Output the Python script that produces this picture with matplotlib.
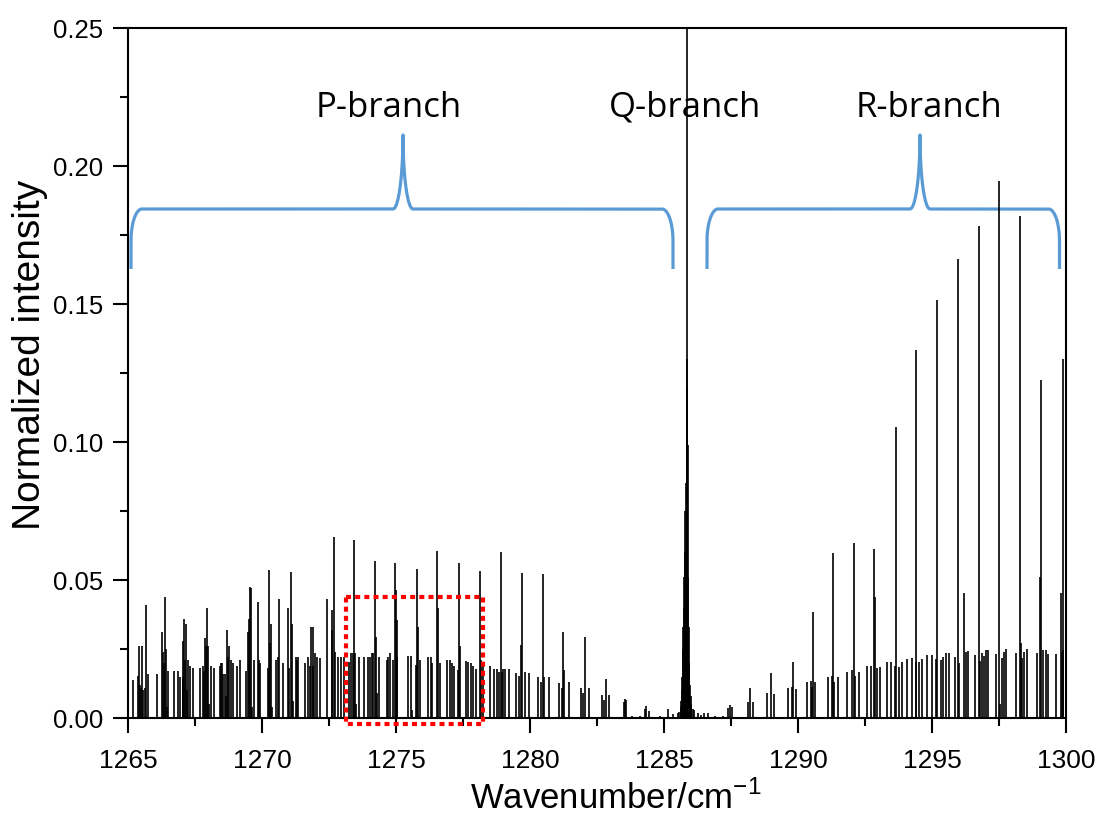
import numpy as np
import matplotlib
matplotlib.use("Agg")
import matplotlib.pyplot as plt
from matplotlib.ticker import MultipleLocator, FormatStrFormatter

# P-branch stick lines (wavenumber / cm-1, normalized intensity)
p_pos = [1265.20, 1265.39, 1265.41, 1265.45, 1265.50, 1265.53, 1265.57, 1265.62, 1265.66, 1265.76,
         1266.07, 1266.26, 1266.29, 1266.33, 1266.38, 1266.42, 1266.45, 1266.50, 1266.73, 1266.88,
         1266.94, 1267.04, 1267.07, 1267.10, 1267.14, 1267.18, 1267.21, 1267.23, 1267.31, 1267.41,
         1267.69, 1267.79, 1267.83, 1267.87, 1267.91, 1267.94, 1267.97, 1268.01, 1268.10, 1268.22,
         1268.43, 1268.46, 1268.50, 1268.56, 1268.62, 1268.66, 1268.71, 1268.74, 1268.77, 1268.84,
         1268.93, 1269.08, 1269.18, 1269.39, 1269.47, 1269.51, 1269.55, 1269.58, 1269.63, 1269.71,
         1269.86, 1269.90, 1269.93, 1270.21, 1270.25, 1270.28, 1270.32, 1270.36, 1270.51, 1270.61,
         1270.63, 1270.80, 1270.98, 1271.02, 1271.07, 1271.11, 1271.15, 1271.27, 1271.30, 1271.33,
         1271.60, 1271.73, 1271.78, 1271.83, 1271.89, 1271.92, 1271.98, 1272.06, 1272.16, 1272.44,
         1272.60, 1272.63, 1272.69, 1272.72, 1272.85, 1272.95, 1273.06, 1273.26, 1273.33, 1273.38,
         1273.44, 1273.48, 1273.52, 1273.62, 1273.82, 1273.94, 1274.03, 1274.09, 1274.15, 1274.22,
         1274.25, 1274.28, 1274.37, 1274.65, 1274.72, 1274.78, 1274.90, 1274.96, 1274.99, 1275.02,
         1275.05, 1275.44, 1275.56, 1275.60, 1275.75, 1275.80, 1275.83, 1275.91, 1276.18, 1276.29,
         1276.35, 1276.54, 1276.57, 1276.63, 1276.89, 1277.01, 1277.10, 1277.16, 1277.33, 1277.35,
         1277.40, 1277.60, 1277.70, 1277.80, 1277.89, 1277.97, 1278.13, 1278.16, 1278.25, 1278.51,
         1278.67, 1278.76, 1278.84, 1278.91, 1278.95, 1279.00, 1279.07, 1279.23, 1279.47, 1279.59,
         1279.65, 1279.71, 1279.81, 1279.96, 1280.29, 1280.41, 1280.47, 1280.54, 1280.71, 1281.08,
         1281.18, 1281.24, 1281.27, 1281.46, 1281.89, 1281.99, 1282.05, 1282.21, 1282.67, 1282.75,
         1282.82, 1282.93, 1283.51, 1283.55, 1283.58, 1283.79, 1284.10, 1284.29, 1284.33, 1284.44,
         1284.85, 1285.14, 1285.35, 1285.51, 1285.57]
p_int = [0.0138, 0.0152, 0.0260, 0.0120, 0.0110, 0.0260, 0.0100, 0.0110, 0.0410, 0.0160,
         0.0160, 0.0310, 0.0240, 0.0200, 0.0440, 0.0250, 0.0040, 0.0170, 0.0170, 0.0170,
         0.0150, 0.0280, 0.0150, 0.0360, 0.0210, 0.0340, 0.0100, 0.0210, 0.0190, 0.0180,
         0.0180, 0.0190, 0.0170, 0.0290, 0.0260, 0.0400, 0.0260, 0.0050, 0.0190, 0.0180,
         0.0190, 0.0200, 0.0200, 0.0160, 0.0160, 0.0080, 0.0320, 0.0220, 0.0260, 0.0210,
         0.0200, 0.0190, 0.0210, 0.0170, 0.0310, 0.0360, 0.0475, 0.0470, 0.0040, 0.0210,
         0.0420, 0.0210, 0.0200, 0.0180, 0.0536, 0.0270, 0.0340, 0.0040, 0.0210, 0.0220,
         0.0430, 0.0200, 0.0400, 0.0180, 0.0530, 0.0340, 0.0060, 0.0220, 0.0210, 0.0220,
         0.0200, 0.0220, 0.0190, 0.0330, 0.0330, 0.0190, 0.0234, 0.0220, 0.0216, 0.0430,
         0.0390, 0.0320, 0.0655, 0.0240, 0.0220, 0.0220, 0.0220, 0.0204, 0.0234, 0.0234,
         0.0645, 0.0234, 0.0050, 0.0220, 0.0220, 0.0220, 0.0220, 0.0234, 0.0234, 0.0570,
         0.0295, 0.0090, 0.0220, 0.0210, 0.0220, 0.0234, 0.0210, 0.0560, 0.0464, 0.0355,
         0.0220, 0.0226, 0.0226, 0.0030, 0.0191, 0.0539, 0.0330, 0.0210, 0.0220, 0.0220,
         0.0200, 0.0606, 0.0400, 0.0200, 0.0210, 0.0210, 0.0200, 0.0190, 0.0174, 0.0563,
         0.0260, 0.0208, 0.0204, 0.0200, 0.0190, 0.0179, 0.0531, 0.0210, 0.0200, 0.0190,
         0.0179, 0.0176, 0.0166, 0.0603, 0.0166, 0.0176, 0.0176, 0.0176, 0.0164, 0.0152,
         0.0265, 0.0524, 0.0166, 0.0164, 0.0147, 0.0132, 0.0520, 0.0150, 0.0147, 0.0126,
         0.0110, 0.0313, 0.0174, 0.0129, 0.0108, 0.0089, 0.0294, 0.0108, 0.0083, 0.0067,
         0.0141, 0.0083, 0.0059, 0.0070, 0.0065, 0.0007, 0.0007, 0.0031, 0.0043, 0.0026,
         0.0007, 0.0031, 0.0016, 0.0018, 0.0022]

# Q-branch head
q_pos = [1285.62, 1285.64, 1285.66, 1285.68, 1285.70, 1285.72, 1285.74, 1285.76, 1285.78, 1285.80,
         1285.82, 1285.84, 1285.85, 1285.86, 1285.87, 1285.89, 1285.91, 1285.93, 1285.95, 1285.97,
         1285.99, 1286.02, 1286.07, 1286.12, 1286.28, 1286.37, 1286.50, 1286.65, 1286.90, 1287.19,
         1287.40, 1287.46, 1287.53]
q_int = [0.0040, 0.0060, 0.0100, 0.0150, 0.0250, 0.0330, 0.0400, 0.0510, 0.0600, 0.0750,
         0.0850, 0.0990, 0.1300, 0.1200, 1.0000, 0.0990, 0.0510, 0.0330, 0.0200, 0.0120,
         0.0080, 0.0050, 0.0031, 0.0030, 0.0017, 0.0012, 0.0017, 0.0019, 0.0007, 0.0007,
         0.0035, 0.0047, 0.0040]

# R-branch stick lines
r_pos = [1288.15, 1288.21, 1288.31, 1288.85, 1288.98, 1289.12, 1289.64, 1289.76, 1289.80, 1289.93,
         1290.35, 1290.49, 1290.53, 1290.57, 1290.64, 1291.13, 1291.25, 1291.32, 1291.35, 1291.48,
         1291.84, 1292.00, 1292.09, 1292.12, 1292.29, 1292.59, 1292.72, 1292.85, 1292.88, 1292.93,
         1293.06, 1293.33, 1293.47, 1293.62, 1293.66, 1293.77, 1293.87, 1294.06, 1294.25, 1294.39,
         1294.42, 1294.50, 1294.62, 1294.80, 1295.01, 1295.15, 1295.20, 1295.33, 1295.42, 1295.52,
         1295.64, 1295.86, 1295.98, 1296.02, 1296.19, 1296.27, 1296.36, 1296.60, 1296.75, 1296.78,
         1296.88, 1296.94, 1297.01, 1297.10, 1297.39, 1297.51, 1297.53, 1297.60, 1297.69, 1297.76,
         1298.13, 1298.28, 1298.31, 1298.34, 1298.43, 1298.53, 1298.91, 1299.02, 1299.05, 1299.15,
         1299.24, 1299.34, 1299.63, 1299.80, 1299.84, 1299.87, 1299.90]
r_int = [0.0059, 0.0108, 0.0059, 0.0090, 0.0162, 0.0087, 0.0110, 0.0114, 0.0204, 0.0105,
         0.0129, 0.0134, 0.0114, 0.0384, 0.0129, 0.0150, 0.0153, 0.0598, 0.0131, 0.0150,
         0.0168, 0.0174, 0.0634, 0.0151, 0.0166, 0.0190, 0.0190, 0.0612, 0.0440, 0.0180,
         0.0184, 0.0202, 0.0204, 0.0190, 0.1055, 0.0186, 0.0202, 0.0212, 0.0216, 0.0202,
         0.1334, 0.0204, 0.0212, 0.0228, 0.0228, 0.0212, 0.1515, 0.0210, 0.0220, 0.0237,
         0.0237, 0.0220, 0.1663, 0.0200, 0.0454, 0.0240, 0.0244, 0.0229, 0.1783, 0.0208,
         0.0237, 0.0225, 0.0246, 0.0246, 0.0232, 0.1944, 0.0050, 0.0216, 0.0240, 0.0250,
         0.0237, 0.1819, 0.0271, 0.0216, 0.0240, 0.0250, 0.0237, 0.0510, 0.1223, 0.0246,
         0.0246, 0.0232, 0.0232, 0.0454, 0.0240, 0.1300, 0.0245]

branch_names = ["P-branch", "Q-branch", "R-branch"]
label_x = [1274.74, 1285.78, 1294.87]

plt.rcParams["font.family"] = ["Liberation Sans", "DejaVu Sans"]
plt.rcParams["mathtext.fontset"] = "custom"
plt.rcParams["mathtext.rm"] = "Liberation Sans"

fig = plt.figure(figsize=(11.02, 8.22), dpi=100)
ax = fig.add_axes([128 / 1102, 1 - 718 / 822, 938 / 1102, 690 / 822])

ax.set_xlim(1265, 1300)
ax.set_ylim(0, 0.25)

for pos, inten in [(p_pos, p_int), (q_pos, q_int), (r_pos, r_int)]:
    ax.vlines(pos, 0, inten, colors="black", linewidth=1.2, zorder=4)

# axis cosmetics
for s in ax.spines.values():
    s.set_linewidth(1.5)
ax.xaxis.set_major_locator(MultipleLocator(5))
ax.xaxis.set_minor_locator(MultipleLocator(2.5))
ax.yaxis.set_major_locator(MultipleLocator(0.05))
ax.yaxis.set_minor_locator(MultipleLocator(0.025))
ax.yaxis.set_major_formatter(FormatStrFormatter("%.2f"))
ax.tick_params(which="major", direction="out", length=11, width=1.5)
ax.tick_params(which="minor", direction="out", length=6, width=1.5)
ax.tick_params(axis="x", which="major", labelsize=19, pad=11)
ax.tick_params(axis="y", which="major", labelsize=18.5, pad=7)

ax.text((30 - 128) / 938, (718 - 355) / 690, "Normalized intensity", rotation=90,
        fontsize=28, ha="center", va="center", transform=ax.transAxes)
ax.text((616 - 128) / 938, (718 - 798) / 690, "Wavenumber/cm$^{-1}$",
        fontsize=25, ha="center", va="center", transform=ax.transAxes)

# branch labels
for name, x in zip(branch_names, label_x):
    ax.text(x, 0.2178, name, fontsize=25, family=["Open Sans", "DejaVu Sans"],
            ha="center", va="baseline", zorder=1)

# curly brackets over the P and R branches
sx = 35 / 938
sy = 0.25 / 690


def brace(x0, x1, xm, yb, yh, yt, rx=11, ry=32, rt=10):
    rx, ry, rt = rx * sx, ry * sy, rt * sx
    t = np.linspace(0, np.pi / 2, 40)
    px = [x0]
    py = [yb]
    px += list(x0 + rx - rx * np.cos(t))
    py += list(yh - ry + ry * np.sin(t))
    px += list(xm - rt + rt * np.sin(t))
    py += list(yt - (yt - yh) * np.cos(t))
    px += list(xm + rt - rt * np.sin(t[::-1]))
    py += list(yt - (yt - yh) * np.cos(t[::-1]))
    px += list(x1 - rx + rx * np.cos(t[::-1]))
    py += list(yh - ry + ry * np.sin(t[::-1]))
    px += [x1]
    py += [yb]
    ax.plot(px, py, color="#5B9BD5", linewidth=2.3, clip_on=False, zorder=2,
            solid_capstyle="butt")


y_bot = (718 - 269) * sy
y_bar = (718 - 209) * sy
y_tip = (718 - 135) * sy
brace(1265 + 3 * sx, 1265 + 545 * sx, 1265 + 275 * sx, y_bot, y_bar, y_tip)
brace(1265 + 579 * sx, 1265 + 931.5 * sx, 1265 + 792 * sx, y_bot, y_bar, y_tip)

# dotted box around the zoomed region
bx0, bx1 = 1273.12, 1278.23
by0, by1 = -0.0022, 0.0438
ax.plot([bx0, bx1, bx1, bx0, bx0], [by1, by1, by0, by0, by1], color="red",
        linewidth=3.0, linestyle=(0, (1.2, 1.0)), clip_on=False, zorder=5)

fig.savefig("out.png", dpi=100)
